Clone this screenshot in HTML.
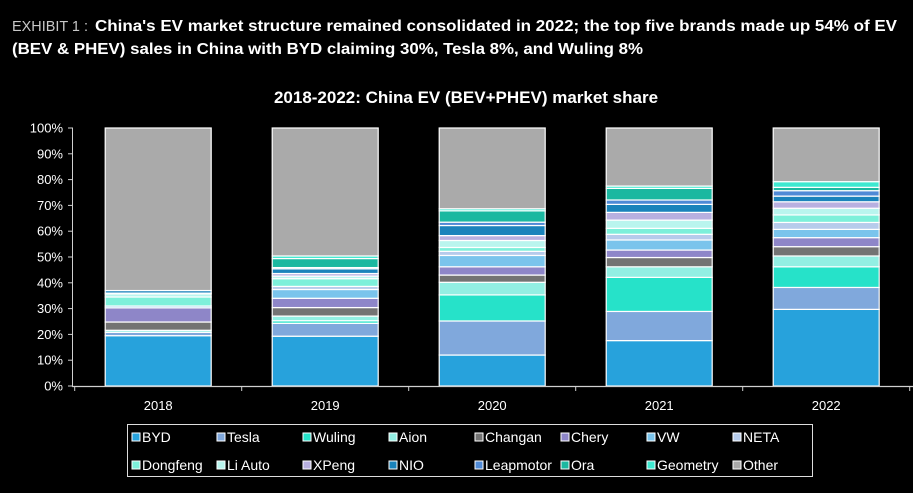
<!DOCTYPE html>
<html><head><meta charset="utf-8"><style>
html,body{margin:0;padding:0;background:#000;}
svg{display:block;font-family:"Liberation Sans",Arial,sans-serif;}
</style></head><body>
<svg id="chart" width="913" height="493" viewBox="0 0 913 493" xmlns="http://www.w3.org/2000/svg">
<rect width="913" height="493" fill="#000"/>
<text x="12" y="31" fill="#c8c8c8" font-size="15" textLength="76" lengthAdjust="spacingAndGlyphs">EXHIBIT 1 :</text>
<text x="95" y="31" fill="#fff" font-size="15.5" font-weight="bold" textLength="802" lengthAdjust="spacingAndGlyphs">China's EV market structure remained consolidated in 2022; the top five brands made up 54% of EV</text>
<text x="12" y="54" fill="#fff" font-size="15.5" font-weight="bold" textLength="631" lengthAdjust="spacingAndGlyphs">(BEV &amp; PHEV) sales in China with BYD claiming 30%, Tesla 8%, and Wuling 8%</text>
<text x="466" y="103" fill="#fff" font-size="17" font-weight="bold" text-anchor="middle">2018-2022: China EV (BEV+PHEV) market share</text>
<g id="yaxis"></g>
<g id="bars"></g>
<g id="xaxis"></g>
<g id="legend"></g>
</svg>
<script>
const years = ["2018","2019","2020","2021","2022"];
const brands = ["BYD","Tesla","Wuling","Aion","Changan","Chery","VW","NETA","Dongfeng","Li Auto","XPeng","NIO","Leapmotor","Ora","Geometry","Other"];
const colors = ["#27a2dc","#80a8dc","#26e2c9","#92efe3","#737373","#8e86c8","#7ac4ec","#b6cbeb","#7df0da","#b9f5ee","#b8b0e0","#1a83bb","#4f8ad6","#1bb8a0","#3ee9d0","#aaaaaa"];
const s2018 = [19.5,1.3,0,0.8,3.2,5.5,0.7,0,3.5,1.2,0.3,1.0,0,0,0,63.0];
const s2019 = [19.3,5.0,1.0,1.8,3.3,3.6,3.4,1.2,3.0,1.0,1.0,1.8,0.5,3.5,1.0,49.6];
const s2020 = [12.0,13.2,10.1,4.9,2.8,3.2,4.4,1.6,1.5,2.7,1.9,3.9,1.3,4.4,0.8,31.3];
const s2021 = [17.6,11.3,13.2,4.1,3.6,2.9,3.9,2.2,2.3,3.2,3.0,3.1,1.7,4.5,0.9,22.5];
const s2022 = [29.7,8.5,8.0,4.2,3.6,3.5,3.2,2.7,2.9,2.6,2.5,2.2,2.1,1.3,2.2,20.8];
const series = [s2018,s2019,s2020,s2021,s2022];
const yTicks = ["0%","10%","20%","30%","40%","50%","60%","70%","80%","90%","100%"];

const NS="http://www.w3.org/2000/svg";
const x0=74.7, cw=167, y0=386, yTop=128, bw=106;
const yScale=v=>y0-(y0-yTop)*v/100;
const xCenter=i=>x0+cw*(i+0.5);
function mk(tag,attrs,parent){const e=document.createElementNS(NS,tag);for(const k in attrs)e.setAttribute(k,attrs[k]);parent.appendChild(e);return e;}

const ya=document.getElementById('yaxis');
let yl=mk('line',{x1:72.5,y1:yTop,x2:72.5,y2:y0,stroke:'#d0d0d0','stroke-width':1},ya);


yTicks.forEach((t,i)=>{
  const y=yScale(i*10);
  const tk=mk('line',{x1:68,y1:y,x2:73,y2:y,stroke:'#d0d0d0','stroke-width':1},ya);
  
  
  const tx=mk('text',{x:63,y:y+4.5,fill:'#fff','font-size':13,'text-anchor':'end'},ya);
  tx.textContent=t;
  
  
});

const bg=document.getElementById('bars');
series.forEach((vals,i)=>{
  let cum=0;
  const cx=xCenter(i);
  const total=vals.reduce((a,b)=>a+b,0);
  vals.forEach((v,j)=>{
    if(v<=0){return;}
    const yb=yScale(cum*100/total), yt=yScale((cum+v)*100/total);
    cum+=v;
    const r=mk('rect',{x:cx-bw/2,y:yt,width:bw,height:Math.max(0.5,yb-yt),fill:colors[j],stroke:'#fff','stroke-width':1.2},bg);
    
    
  });
});

const xa=document.getElementById('xaxis');
let xl=mk('line',{x1:72,y1:y0+0.5,x2:913,y2:y0+0.5,stroke:'#d0d0d0','stroke-width':1.2},xa);


for(let i=0;i<=years.length;i++){
  const x=x0+cw*i;
  const tk=mk('line',{x1:x,y1:y0,x2:x,y2:y0+5,stroke:'#d0d0d0','stroke-width':1},xa);
  
  
}
years.forEach((yr,i)=>{
  const tx=mk('text',{x:xCenter(i),y:410,fill:'#fff','font-size':13,'text-anchor':'middle'},xa);
  tx.textContent=yr;
  
  
});

const lg=document.getElementById('legend');
const box=mk('rect',{x:127.5,y:424.5,width:685,height:52,fill:'none',stroke:'#ddd','stroke-width':1},lg);


const colX=[132,217,303,389,475,561,647,733];
brands.forEach((b,k)=>{
  const row=Math.floor(k/8), col=k%8;
  const x=colX[col], y=row?465:437;
  const g=mk('g',{},lg);
  
  
  mk('rect',{x:x,y:y-4,width:8,height:8,fill:colors[k],stroke:'#fff','stroke-width':1},g);
  const t=mk('text',{x:x+10,y:y+5,fill:'#fff','font-size':14},g);
  t.textContent=b;
});
</script>
</body></html>
